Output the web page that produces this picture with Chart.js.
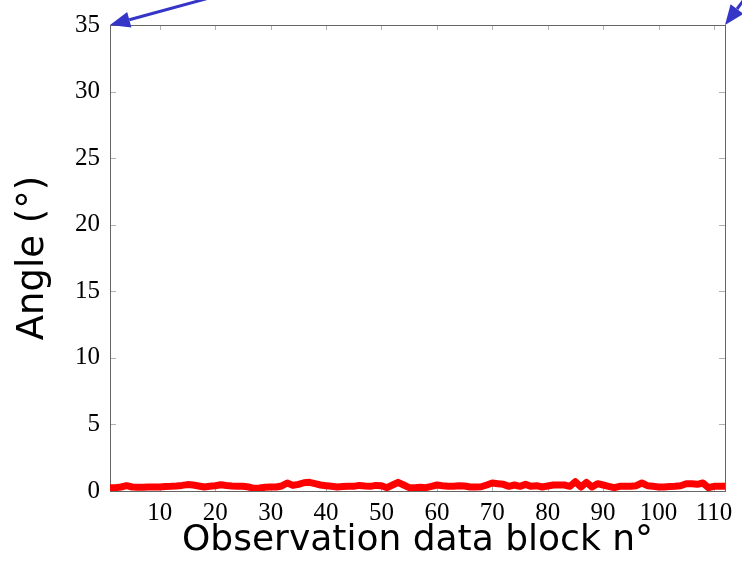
<!DOCTYPE html>
<html>
<head>
<meta charset="utf-8">
<script src="https://cdn.jsdelivr.net/npm/chart.js@4"></script>
<style>
  html, body { margin: 0; padding: 0; background: #fff; }
  #wrap { width: 742px; height: 567px; }
</style>
</head>
<body>
<div id="wrap"><canvas id="angleChart" width="742" height="567"></canvas></div>
<script>
// Angle per observation block, blocks 1..112
const blocks = [];
for (let i = 1; i <= 112; i++) blocks.push(i);
const angles = [
  0.25, 0.25, 0.30, 0.40, 0.30, 0.28, 0.28, 0.30, 0.30, 0.30,
  0.33, 0.35, 0.38, 0.42, 0.48, 0.45, 0.38, 0.30, 0.35, 0.40,
  0.47, 0.42, 0.38, 0.36, 0.35, 0.30, 0.20, 0.22, 0.28, 0.30,
  0.30, 0.38, 0.60, 0.42, 0.50, 0.62, 0.65, 0.55, 0.45, 0.40,
  0.35, 0.30, 0.33, 0.36, 0.35, 0.42, 0.38, 0.35, 0.42, 0.40,
  0.25, 0.45, 0.65, 0.45, 0.25, 0.25, 0.28, 0.25, 0.35, 0.45,
  0.40, 0.36, 0.35, 0.40, 0.38, 0.30, 0.30, 0.32, 0.45, 0.60,
  0.55, 0.50, 0.35, 0.45, 0.35, 0.50, 0.35, 0.40, 0.30, 0.38,
  0.45, 0.45, 0.45, 0.35, 0.70, 0.30, 0.65, 0.30, 0.55, 0.45,
  0.35, 0.25, 0.35, 0.35, 0.35, 0.40, 0.60, 0.40, 0.35, 0.30,
  0.30, 0.33, 0.35, 0.40, 0.55, 0.55, 0.50, 0.60, 0.25, 0.35,
  0.35, 0.35
];
const xTicks = [10, 20, 30, 40, 50, 60, 70, 80, 90, 100, 110];
const yTicks = [0, 5, 10, 15, 20, 25, 30, 35];
const xRange = [1, 112];
const yRange = [0, 35];

const FRAME = '#666';
const TICK = '#b0b0b0';
const ARROW = '#3535c8';
const SERIF = '"Liberation Serif", "Times New Roman", Times, serif';
const SANS = '"DejaVu Sans", Verdana, sans-serif';

// ─── box, inner tick marks and corner arrows ─────────────────────────────
function arrow(ctx, tx, ty, ux, uy, len) {
  // tip at (tx,ty), shaft runs along (ux,uy) away from the tip
  const head = 20, half = 8;
  const bx = tx + ux * head, by = ty + uy * head;
  ctx.beginPath();
  ctx.moveTo(bx, by);
  ctx.lineTo(tx + ux * len, ty + uy * len);
  ctx.stroke();
  ctx.beginPath();
  ctx.moveTo(tx, ty);
  ctx.lineTo(bx - uy * half, by + ux * half);
  ctx.lineTo(bx + uy * half, by - ux * half);
  ctx.closePath();
  ctx.fill();
}

const framePlugin = {
  id: 'frame',
  beforeDatasetsDraw(chart) {
    const { ctx, chartArea: a, scales: { x, y } } = chart;
    ctx.save();
    ctx.lineWidth = 1;
    ctx.strokeStyle = TICK;
    ctx.beginPath();
    xTicks.forEach(v => {
      const px = Math.round(x.getPixelForValue(v)) + 0.5;
      ctx.moveTo(px, a.top); ctx.lineTo(px, a.top + 5);
      ctx.moveTo(px, a.bottom); ctx.lineTo(px, a.bottom - 5);
    });
    yTicks.forEach(v => {
      const py = Math.round(y.getPixelForValue(v)) + 0.5;
      ctx.moveTo(a.left, py); ctx.lineTo(a.left + 6, py);
      ctx.moveTo(a.right, py); ctx.lineTo(a.right - 6, py);
    });
    ctx.stroke();
    ctx.strokeStyle = FRAME;
    ctx.strokeRect(Math.round(a.left) + 0.5, Math.round(a.top) + 0.5,
      Math.round(a.right - a.left), Math.round(a.bottom - a.top));
    ctx.restore();
  },
  afterDraw(chart) {
    const { ctx, scales: { x, y } } = chart;
    ctx.save();
    ctx.strokeStyle = ARROW;
    ctx.fillStyle = ARROW;
    ctx.lineWidth = 3;
    arrow(ctx, x.getPixelForValue(xRange[0]), y.getPixelForValue(yRange[1]), 0.965, -0.263, 120);
    arrow(ctx, x.getPixelForValue(xRange[1]), y.getPixelForValue(yRange[1]), 0.6, -0.8, 80);
    ctx.restore();
  }
};

function drawAngleChart() {
  new Chart(document.getElementById('angleChart'), {
    type: 'line',
    data: {
      datasets: [{
        data: blocks.map((b, i) => ({ x: b, y: angles[i] })),
        borderColor: '#ff0000',
        borderWidth: 7,
        borderJoinStyle: 'round',
        borderCapStyle: 'round',
        pointRadius: 0,
        tension: 0,
        fill: false
      }]
    },
    options: {
      responsive: false,
      animation: false,
      layout: { padding: { top: 20, right: 17, left: 0, bottom: 0 } },
      plugins: { legend: { display: false }, tooltip: { enabled: false } },
      scales: {
        x: {
          type: 'linear',
          min: xRange[0], max: xRange[1],
          afterBuildTicks: s => { s.ticks = xTicks.map(v => ({ value: v })); },
          afterFit: s => { s.height = 76; },
          grid: { display: false, drawTicks: false },
          border: { display: false },
          ticks: {
            padding: 7,
            color: '#000',
            maxRotation: 0,
            autoSkip: false,
            font: { family: SERIF, size: 25, lineHeight: 1.2 }
          },
          title: {
            display: true,
            text: 'Observation data block n°',
            color: '#000',
            padding: { top: 0, bottom: 8 },
            font: { family: SANS, size: 36, lineHeight: 1 }
          }
        },
        y: {
          min: yRange[0], max: yRange[1],
          afterBuildTicks: s => { s.ticks = yTicks.map(v => ({ value: v })); },
          afterFit: s => { s.width = 110; },
          grid: { display: false, drawTicks: false },
          border: { display: false },
          ticks: {
            padding: 10,
            color: '#000',
            font: { family: SERIF, size: 25, lineHeight: 1.2 }
          },
          title: {
            display: true,
            text: 'Angle (°)',
            color: '#000',
            padding: { top: 15, bottom: 0 },
            font: { family: SANS, size: 37, lineHeight: 1 }
          }
        }
      }
    },
    plugins: [framePlugin]
  });
}

Promise.all([
  document.fonts.load('25px "Liberation Serif"'),
  document.fonts.load('36px "DejaVu Sans"')
]).catch(() => {}).then(drawAngleChart);
</script>
</body>
</html>
